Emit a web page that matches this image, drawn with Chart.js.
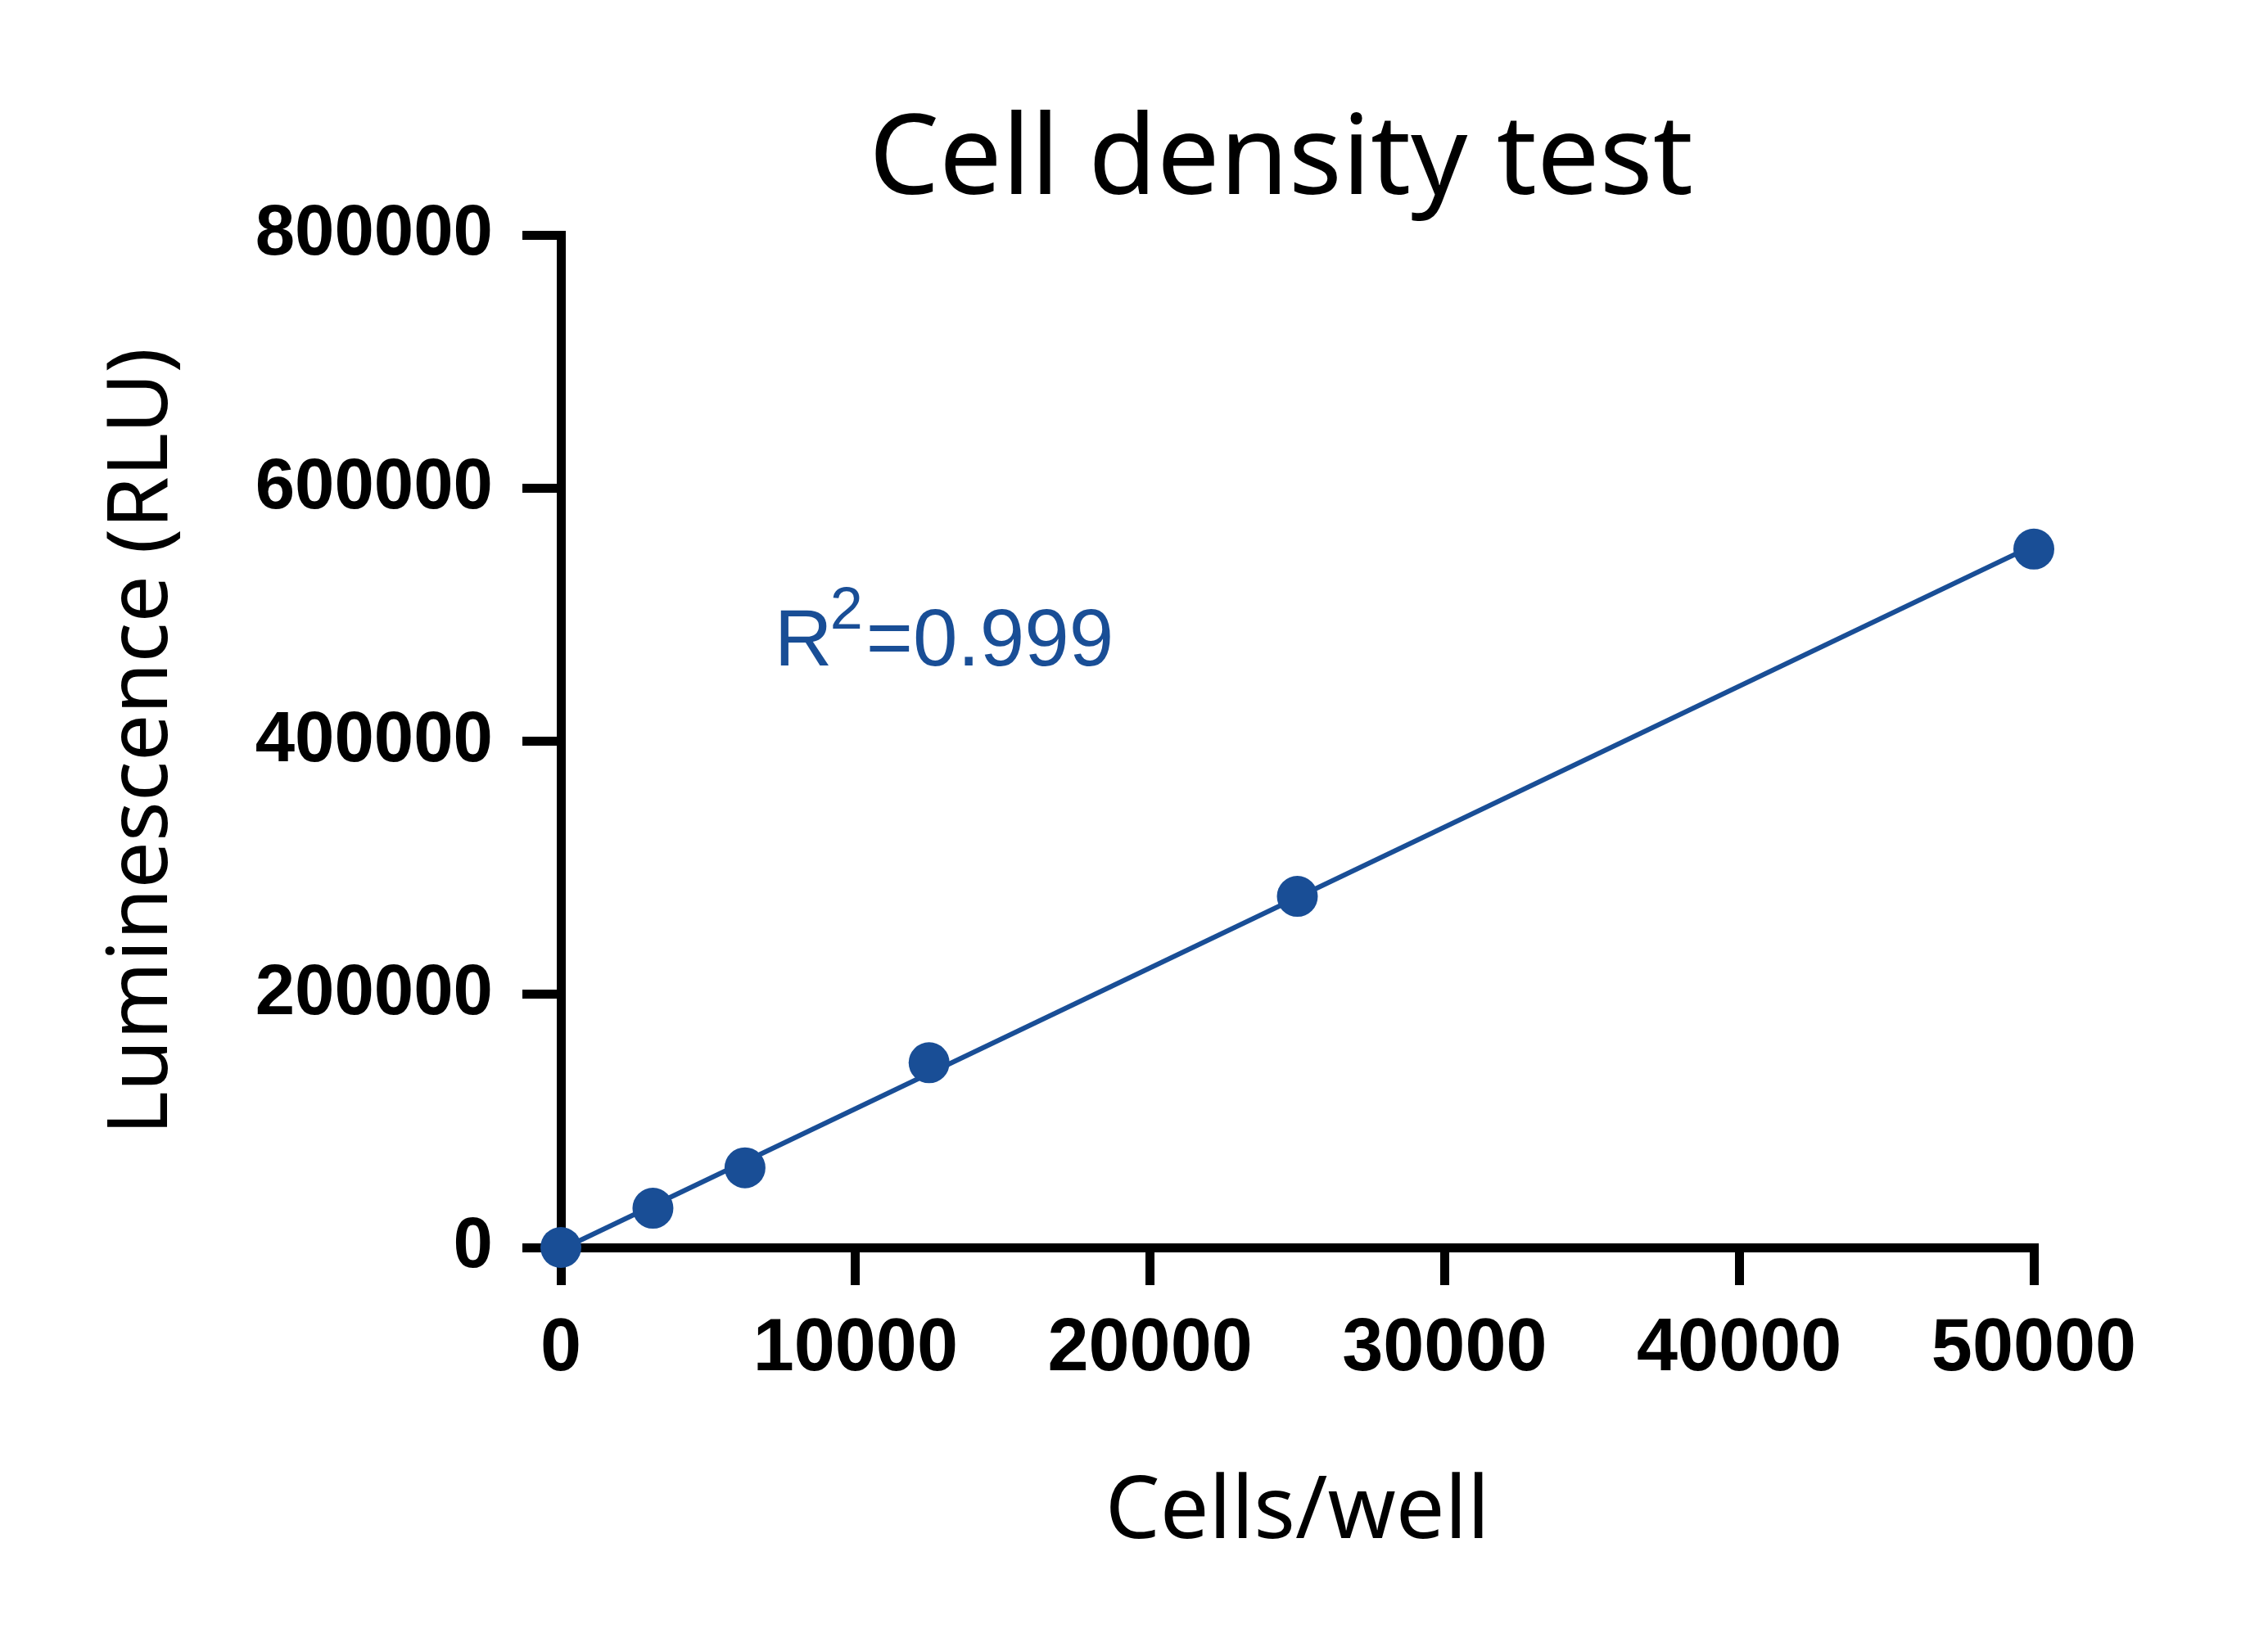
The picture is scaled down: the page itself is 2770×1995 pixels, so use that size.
<!DOCTYPE html>
<html>
<head>
<meta charset="utf-8">
<script src="https://cdn.jsdelivr.net/npm/chart.js@4.4.1/dist/chart.umd.min.js"></script>
<style>
  html, body { margin: 0; padding: 0; background: #ffffff; }
  canvas { display: block; }
</style>
</head>
<body>
<canvas id="c" width="2770" height="1995" style="width:2770px;height:1995px"></canvas>
<script>
// ---- data ----
const cellsPerWell = [0, 3125, 6250, 12500, 25000, 50000];
const luminescence = [0, 31000, 63000, 146000, 277500, 552000];
const fitX = [0, 50000];
const fitY = [-1700, 555000];
const xTickValues = [0, 10000, 20000, 30000, 40000, 50000];
const yTickValues = [0, 200000, 400000, 600000, 800000];
const chartTitle = 'Cell density test';
const xTitle = 'Cells/well';
const yTitle = 'Luminescence (RLU)';
const r2Base = 'R';
const r2Sup = '2';
const r2Rest = '=0.999';
const r2AtX = 7250;
const r2AtY = 460000;

const BLUE = '#194e96';

const pointData = cellsPerWell.map((x, i) => ({ x: x, y: luminescence[i] }));
const fitData = fitX.map((x, i) => ({ x: x, y: fitY[i] }));

const titleShift = {
  id: 'titleShift',
  afterLayout(chart) {
    const t = chart.titleBlock;
    if (t) { t.left -= 20; t.right -= 20; }
  }
};

const r2Plugin = {
  id: 'r2label',
  afterDatasetsDraw(chart) {
    const ctx = chart.ctx;
    const xs = chart.scales.x, ys = chart.scales.y;
    let px = xs.getPixelForValue(r2AtX);
    const py = ys.getPixelForValue(r2AtY);
    ctx.save();
    ctx.fillStyle = BLUE;
    ctx.textBaseline = 'alphabetic';
    ctx.textAlign = 'left';
    ctx.font = '98px "Liberation Sans", Arial, sans-serif';
    ctx.fillText(r2Base, px, py);
    px += ctx.measureText(r2Base).width - 3;
    ctx.font = '72px "Liberation Sans", Arial, sans-serif';
    ctx.fillText(r2Sup, px, py - 45);
    px += ctx.measureText(r2Sup).width + 4;
    ctx.font = '98px "Liberation Sans", Arial, sans-serif';
    ctx.fillText(r2Rest, px, py);
    ctx.restore();
  }
};

new Chart(document.getElementById('c'), {
  type: 'scatter',
  data: {
    datasets: [
      {
        label: 'Data',
        data: pointData,
        pointRadius: 25,
        pointHoverRadius: 25,
        pointBackgroundColor: BLUE,
        pointBorderWidth: 0,
        borderColor: BLUE,
        showLine: false,
        clip: false,
        order: 0
      },
      {
        label: 'Fit',
        type: 'line',
        data: fitData,
        borderColor: BLUE,
        borderWidth: 6,
        pointRadius: 0,
        fill: false,
        tension: 0,
        order: 1
      }
    ]
  },
  options: {
    responsive: false,
    devicePixelRatio: 1,
    animation: false,
    layout: { padding: { left: 0, right: 286, top: 0, bottom: 0 } },
    plugins: {
      legend: { display: false },
      tooltip: { enabled: false },
      title: {
        display: true,
        text: chartTitle,
        fullSize: false,
        color: '#000000',
        font: { family: '"Noto Sans", sans-serif', size: 136, weight: 'normal', lineHeight: 1.2 },
        padding: { top: 117, bottom: 7.3 }
      }
    },
    scales: {
      x: {
        type: 'linear',
        min: 0,
        max: 50000,
        afterBuildTicks(scale) { scale.ticks = xTickValues.map(v => ({ value: v })); },
        afterFit(scale) { scale.height = 471; },
        border: { display: true, color: '#000000', width: 11 },
        grid: { display: true, drawOnChartArea: false, drawTicks: true, tickLength: 46, tickWidth: 11, tickColor: '#000000', color: '#000000', lineWidth: 11 },
        ticks: {
          color: '#000000',
          padding: 25,
          maxRotation: 0,
          autoSkip: false,
          font: { family: '"Liberation Sans", Arial, sans-serif', size: 90, weight: 'bold' },
          callback: (v) => String(v)
        },
        title: {
          display: true,
          text: xTitle,
          color: '#000000',
          font: { family: '"Noto Sans", sans-serif', size: 106, weight: 'normal', lineHeight: 1.2 },
          padding: { top: 0, bottom: 83 }
        }
      },
      y: {
        type: 'linear',
        min: 0,
        max: 800000,
        afterBuildTicks(scale) { scale.ticks = yTickValues.map(v => ({ value: v })); },
        afterFit(scale) { scale.width = 685; },
        border: { display: true, color: '#000000', width: 11 },
        grid: { display: true, drawOnChartArea: false, drawTicks: true, tickLength: 47, tickWidth: 11, tickColor: '#000000', color: '#000000', lineWidth: 11 },
        ticks: {
          color: '#000000',
          padding: 36,
          autoSkip: false,
          font: { family: '"Liberation Sans", Arial, sans-serif', size: 87, weight: 'bold' },
          callback: (v) => String(v)
        },
        title: {
          display: true,
          text: yTitle,
          color: '#000000',
          font: { family: '"Noto Sans", sans-serif', size: 102, weight: 'normal', lineHeight: 1.2 },
          padding: { top: 114, bottom: 0 }
        }
      }
    }
  },
  plugins: [titleShift, r2Plugin]
});
</script>
</body>
</html>
